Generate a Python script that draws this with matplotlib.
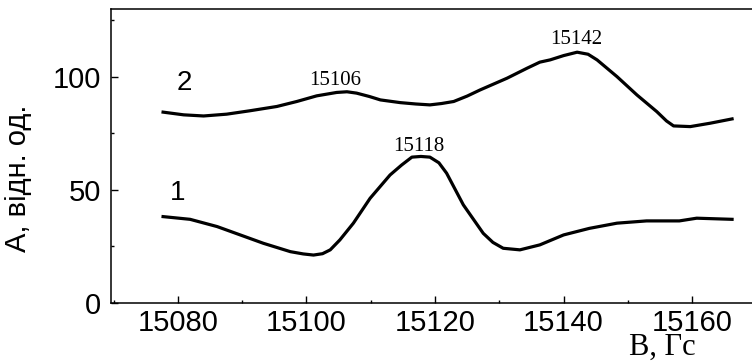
import numpy as np
import matplotlib.pyplot as plt
from matplotlib.ticker import MultipleLocator

# curve 2 (upper)
b2 = [15077.7, 15080.9, 15084.0, 15087.6, 15091.2, 15095.4, 15098.5, 15101.6,
      15104.7, 15106.3, 15107.8, 15109.8, 15111.5, 15114.6, 15117.0, 15119.2,
      15121.0, 15122.9, 15125.0, 15127.0, 15131.2, 15134.3, 15136.3, 15137.9,
      15140.0, 15142.1, 15143.8, 15145.2, 15148.3, 15151.4, 15154.5, 15156.0,
      15157.1, 15159.7, 15162.8, 15166.2]
a2 = [84.4, 83.2, 82.7, 83.5, 85.0, 86.9, 89.1, 91.6,
      93.1, 93.4, 92.8, 91.3, 89.8, 88.6, 88.0, 87.6,
      88.2, 89.1, 91.5, 94.2, 99.4, 103.8, 106.5, 107.5,
      109.4, 110.9, 110.0, 107.5, 100.1, 92.0, 84.6, 80.5,
      78.3, 78.0, 79.5, 81.4]

# curve 1 (lower)
b1 = [15077.7, 15081.9, 15086.1, 15089.7, 15093.3, 15097.5, 15099.5, 15101.1,
      15102.5, 15103.7, 15105.2, 15107.3, 15109.9, 15113.0, 15114.8, 15116.4,
      15117.8, 15119.2, 15120.6, 15121.8, 15124.4, 15127.5, 15129.0, 15130.6,
      15133.2, 15136.3, 15140.0, 15144.0, 15148.3, 15152.9, 15158.0, 15160.7,
      15166.2]
a1 = [38.2, 37.0, 33.8, 30.1, 26.4, 22.7, 21.7, 21.2,
      21.8, 23.5, 27.9, 35.3, 46.3, 56.6, 61.0, 64.5,
      64.8, 64.5, 62.0, 57.4, 43.4, 30.8, 26.8, 24.2,
      23.5, 25.7, 30.1, 33.0, 35.3, 36.3, 36.3, 37.5,
      37.0]

peaks = [15106, 15142, 15118]
peak_pos = [(15104.5, 98.5), (15142.0, 116.5), (15117.5, 69.0)]

xticks = [15080, 15100, 15120, 15140, 15160]
yticks = [0, 50, 100]

fig = plt.figure(figsize=(7.52, 3.64), dpi=100)
ax = fig.add_axes([111 / 752, 61 / 364, 641 / 752, 294 / 364])

ax.plot(b2, a2, color="black", lw=2.3, solid_joinstyle="round")
ax.plot(b1, a1, color="black", lw=2.3, solid_joinstyle="round")

ax.set_xlim(15069.6, 15169.3)
ax.set_ylim(0, 130)
ax.set_xticks(xticks)
ax.set_yticks(yticks)
ax.xaxis.set_minor_locator(MultipleLocator(10))
ax.yaxis.set_minor_locator(MultipleLocator(25))

for s in ["left", "bottom", "top"]:
    ax.spines[s].set_linewidth(1.1)
ax.spines["right"].set_visible(False)

ax.tick_params(which="both", direction="in", width=1.0, top=False, right=False)
ax.tick_params(which="major", length=5)
ax.tick_params(which="minor", length=2.5)
ax.tick_params(axis="x", pad=4)
ax.tick_params(axis="y", pad=7)
for lab in ax.get_xticklabels() + ax.get_yticklabels():
    lab.set_fontfamily("Liberation Sans")
    lab.set_fontsize(21)

ax.set_ylabel("A, відн. од.", fontfamily="Liberation Sans", fontsize=21)
ax.yaxis.set_label_coords(-0.124, 0.425)

fig.text(662 / 752, 2 / 364, "B, Гс", fontfamily="Liberation Serif",
         fontsize=22, ha="center", va="bottom")

for p, (x, y) in zip(peaks, peak_pos):
    ax.text(x, y, str(p), fontfamily="Liberation Serif", fontsize=15,
            ha="center", va="center")

ax.text(15081.0, 97.5, "2", fontfamily="Liberation Sans", fontsize=20,
        ha="center", va="center")
ax.text(15080.0, 48.5, "1", fontfamily="Liberation Sans", fontsize=20,
        ha="center", va="center")

fig.savefig("out.png", dpi=100)
